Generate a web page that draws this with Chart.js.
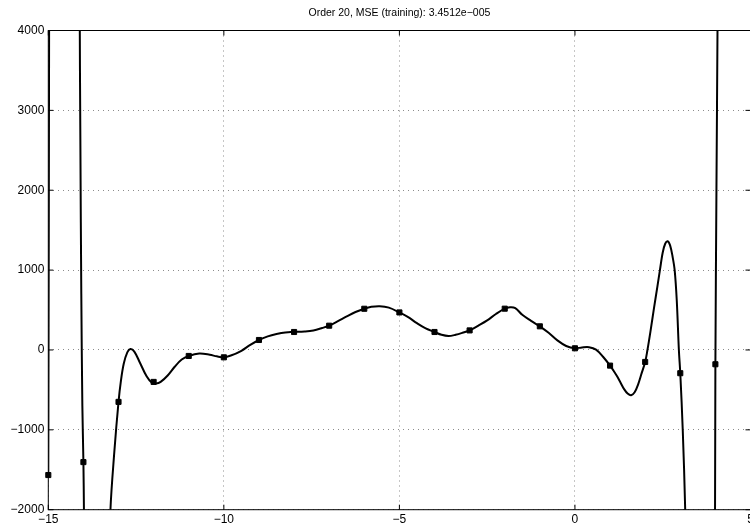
<!DOCTYPE html>
<html>
<head>
<meta charset="utf-8">
<script src="https://cdn.jsdelivr.net/npm/chart.js@4/dist/chart.umd.min.js"></script>
<style>
  html, body { margin: 0; padding: 0; background: #fff; overflow: hidden; }
  #wrap { position: absolute; left: 0; top: 0; width: 760px; height: 528px; }
</style>
</head>
<body>
<div id="wrap"><canvas id="fitChart" width="760" height="528"></canvas></div>
<script>
// Training samples
const trainX = [-15, -14, -13, -12, -11, -10, -9, -8, -7, -6, -5, -4, -3, -2, -1, 0, 1, 2, 3, 4];
const trainY = [-1566, -1404, -650, -400, -75, -92, 125, 225, 304, 516, 470, 225, 245, 517, 296, 21, -196, -150, -291, -179];

// Fitted order-20 curve, read point by point (values past the axes get clipped)
const curveX = [-15, -14.975, -14.96, -14.12, -14.108, -14.085, -14.06, -14.03, -14, -13.985, -13.975, -13.96,
  -13.26, -13.245, -13.23, -13.12, -13, -12.93, -12.85, -12.75, -12.66, -12.55, -12.4, -12.2, -12.05, -11.93,
  -11.8, -11.6, -11.4, -11.2, -11, -10.7, -10.4, -10.2, -10, -9.8, -9.5, -9.26, -9, -8.75, -8.5, -8.25, -8,
  -7.7, -7.45, -7.2, -7, -6.75, -6.5, -6.25, -6, -5.8, -5.56, -5.3, -5, -4.75, -4.5, -4.25, -4, -3.8, -3.6,
  -3.4, -3.2, -3, -2.75, -2.5, -2.25, -2, -1.85, -1.7, -1.5, -1.25, -1, -0.75, -0.5, -0.25, 0, 0.2, 0.4,
  0.6, 0.8, 1, 1.1, 1.2, 1.3, 1.4, 1.5, 1.6, 1.7, 1.8, 1.9, 2, 2.065, 2.15, 2.25, 2.35, 2.42, 2.5, 2.57,
  2.64, 2.71, 2.78, 2.84, 2.9, 2.96, 3, 3.07, 3.14,
  3.155, 3.17, 3.96, 3.975, 3.99, 4, 4.03, 4.06, 4.065, 4.08];
const curveY = [-1566, 4600, 12000, 12000, 4600, 2500, 700, -700, -1404, -2000, -2600, -9000,
  -9000, -2600, -2000, -1280, -650, -380, -170, -30, 12, -20, -150, -330, -410, -420,
  -400, -320, -210, -120, -75, -45, -60, -80, -92, -70, -10, 60, 125, 170, 200, 220, 225,
  232, 245, 275, 304, 360, 420, 475, 516, 540, 548, 530, 470, 410, 335, 270, 225, 190, 175,
  190, 215, 245, 305, 370, 450, 517, 535, 525, 440, 365, 296, 215, 120, 50, 21, 32, 35,
  5, -85, -196, -260, -330, -410, -490, -545, -566, -530, -430, -290, -150, 0, 230, 520, 800, 1000, 1220, 1330,
  1362, 1310, 1170, 1000, 620, 0, -291, -1000, -2000,
  -2600, -9000, -9000, -2600, -2000, -179, 2000, 4000, 4600, 12000];

const xTicks = [-15, -10, -5, 0, 5];
const yTicks = [-2000, -1000, 0, 1000, 2000, 3000, 4000];
const titleText = 'Order 20, MSE (training): 3.4512e\u2212005';

const fontFamily = '"Liberation Sans", Arial, Helvetica, sans-serif';
const minusLabel = (v) => (v < 0 ? '\u2212' + Math.abs(v) : String(v));

// box around the axes with inward tick marks on all four sides
const boxPlugin = {
  id: 'axesBox',
  beforeDatasetsDraw(chart) {
    const { ctx, chartArea: a, scales } = chart;
    const len = 5;
    ctx.save();
    ctx.strokeStyle = '#000';
    ctx.lineWidth = 1;
    ctx.strokeRect(a.left, a.top, a.right - a.left, a.bottom - a.top);
    ctx.beginPath();
    xTicks.forEach(v => {
      const px = scales.x.getPixelForValue(v);
      ctx.moveTo(px, a.bottom); ctx.lineTo(px, a.bottom - len);
      ctx.moveTo(px, a.top); ctx.lineTo(px, a.top + len);
    });
    yTicks.forEach(v => {
      const py = scales.y.getPixelForValue(v);
      ctx.moveTo(a.left, py); ctx.lineTo(a.left + len, py);
      ctx.moveTo(a.right, py); ctx.lineTo(a.right - len, py);
    });
    ctx.stroke();
    ctx.restore();
  }
};

const ctx = document.getElementById('fitChart').getContext('2d');
new Chart(ctx, {
  type: 'scatter',
  data: {
    datasets: [
      {
        label: 'fit',
        data: curveX.map((x, i) => ({ x: x, y: curveY[i] })),
        showLine: true,
        borderColor: '#000',
        borderWidth: 2,
        pointRadius: 0,
        tension: 0.35,
        capBezierPoints: false,
        order: 2
      },
      {
        label: 'training',
        data: trainX.map((x, i) => ({ x: x, y: trainY[i] })),
        showLine: false,
        pointStyle: 'rect',
        pointRadius: 3.6,
        pointBackgroundColor: '#000',
        pointBorderColor: '#000',
        pointBorderWidth: 1,
        clip: false,
        order: 1
      }
    ]
  },
  options: {
    responsive: false,
    animation: false,
    devicePixelRatio: 1,
    layout: { padding: { left: 0, right: 9.5, top: 0, bottom: 0 } },
    plugins: {
      legend: { display: false },
      tooltip: { enabled: false },
      title: {
        display: true,
        fullSize: false,
        text: titleText,
        color: '#000',
        font: { family: fontFamily, size: 10.5, weight: 'normal', lineHeight: 1.2 },
        padding: { top: 7.2, bottom: 10.7 }
      }
    },
    scales: {
      x: {
        type: 'linear',
        min: -15,
        max: 5,
        afterFit: (s) => { s.height = 18.3; },
        afterBuildTicks: (s) => { s.ticks = xTicks.map(v => ({ value: v })); },
        ticks: {
          color: '#000',
          padding: 3,
          maxRotation: 0,
          font: { family: fontFamily, size: 12 },
          callback: minusLabel
        },
        grid: { color: '#8c8c8c', lineWidth: 1, drawTicks: false },
        border: { display: false, dash: [1, 4] }
      },
      y: {
        type: 'linear',
        min: -2000,
        max: 4000,
        afterFit: (s) => { s.width = 48.3; },
        afterBuildTicks: (s) => { s.ticks = yTicks.map(v => ({ value: v })); },
        ticks: {
          color: '#000',
          padding: 4,
          font: { family: fontFamily, size: 12 },
          callback: minusLabel
        },
        grid: { color: '#8c8c8c', lineWidth: 1, drawTicks: false },
        border: { display: false, dash: [1, 4] }
      }
    }
  },
  plugins: [boxPlugin]
});
</script>
</body>
</html>
